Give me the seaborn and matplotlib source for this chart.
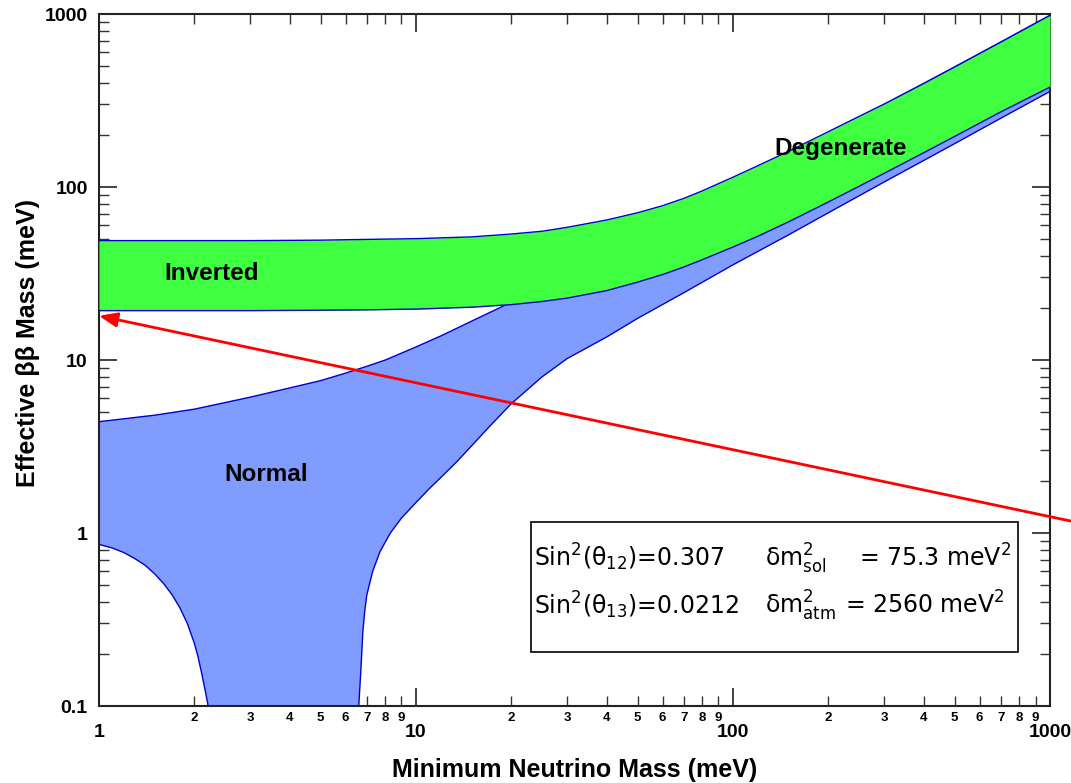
import numpy as np
import matplotlib
matplotlib.use("Agg")
import matplotlib.pyplot as plt
import matplotlib.ticker as mticker
import pandas as pd
import seaborn as sns

# Inverted hierarchy band (meV)
inv_m0 = [1, 2, 3, 5, 7, 10, 15, 20, 25, 30, 40, 50, 60, 70, 80, 100, 120, 150,
          200, 250, 300, 400, 500, 700, 1000]
inv_upper = [49, 49, 49, 49.3, 49.8, 50.3, 51.5, 53.5, 55.5, 58.5, 64.5, 71, 78, 86, 95, 114, 133, 161,
             209, 256, 302, 398, 495, 690, 985]
inv_lower = [19.3, 19.3, 19.3, 19.4, 19.5, 19.7, 20.2, 20.9, 21.8, 22.8, 25.2, 28.2, 31.2, 34.5, 38, 45, 52, 63,
             82, 101, 120, 158, 196, 272, 378]

# Normal hierarchy band (meV): upper edge
nor_up_m0 = [1, 1.5, 2, 3, 4, 5, 6, 7, 8, 10, 12, 15, 18, 20, 25, 30, 40, 50, 70,
             100, 150, 200, 300, 500, 700, 1000]
nor_upper = [4.4, 4.8, 5.2, 6.1, 6.9, 7.6, 8.4, 9.2, 10.0, 11.9, 13.8, 16.8, 19.7, 21.6, 26.5, 31.3, 41, 51, 70,
             100, 149, 198, 295, 490, 685, 975]
# lower edge, which drops off the axis between ~2.2 and ~6.6
nor_lo_m0 = [1, 1.1, 1.2, 1.3, 1.4, 1.5, 1.6, 1.7, 1.8, 1.9, 2.0, 2.05, 2.1, 2.15, 2.2, 2.25, 2.3, 2.5,
             3, 4, 5, 6, 6.4, 6.6, 6.7, 6.8, 6.9, 7.0, 7.3, 7.7, 8.3, 9, 10, 11, 12, 13.5, 15, 17, 20,
             25, 30, 40, 50, 70, 100, 150, 200, 300, 500, 700, 1000]
nor_lower = [0.86, 0.82, 0.77, 0.71, 0.65, 0.58, 0.51, 0.44, 0.37, 0.30, 0.23, 0.195, 0.16, 0.13, 0.105, 0.08, 0.06, 0.03,
             0.01, 0.005, 0.01, 0.03, 0.06, 0.1, 0.16, 0.27, 0.36, 0.44, 0.6, 0.78, 1.0, 1.22, 1.5, 1.8, 2.1, 2.6, 3.2, 4.1, 5.6,
             8.0, 10.2, 13.6, 17.4, 24.5, 35.5, 53, 71, 107, 178, 250, 357]

# sensitivity arrow
arrow_x = [1, 1170]
arrow_y = [18, 1.17]

band_labels = ["Inverted", "Normal", "Degenerate"]
label_x = [2.26, 3.36, 218]
label_y = [31.8, 2.19, 166]

inv = pd.DataFrame({"m0": inv_m0, "upper": inv_upper, "lower": inv_lower})
nor_up = pd.DataFrame({"m0": nor_up_m0, "mbb": nor_upper})
nor_lo = pd.DataFrame({"m0": nor_lo_m0, "mbb": nor_lower})

sns.set_style("ticks")
plt.rcParams["font.family"] = ["Liberation Sans", "DejaVu Sans"]
for key in ["text.color", "axes.labelcolor", "xtick.color", "ytick.color"]:
    plt.rcParams[key] = "black"

fig = plt.figure(figsize=(10.71, 7.83), dpi=100)
ax = fig.add_axes([0.0924, 0.0983, 0.8880, 0.8838])

edge = "#0000CC"
ax.fill(np.r_[nor_up["m0"], nor_lo["m0"][::-1]], np.r_[nor_up["mbb"], nor_lo["mbb"][::-1]],
        color="#809CFF", lw=0, zorder=1)
sns.lineplot(data=nor_up, x="m0", y="mbb", color=edge, lw=1, ax=ax, zorder=2)
sns.lineplot(data=nor_lo, x="m0", y="mbb", color=edge, lw=1, ax=ax, zorder=2)

ax.fill_between(inv["m0"], inv["lower"], inv["upper"], color="#40FF40", lw=0, zorder=3)
sns.lineplot(data=inv, x="m0", y="upper", color=edge, lw=1, ax=ax, zorder=4)
sns.lineplot(data=inv, x="m0", y="lower", color=edge, lw=1, ax=ax, zorder=4)

ax.set_xscale("log")
ax.set_yscale("log")
ax.set_xlim(1, 1000)
ax.set_ylim(0.1, 1000)

ax.annotate("", xy=(arrow_x[0], arrow_y[0]), xytext=(arrow_x[1], arrow_y[1]),
            arrowprops=dict(arrowstyle="-|>,head_length=0.55,head_width=0.22", color="red",
                            lw=2, mutation_scale=20, shrinkA=0, shrinkB=0),
            annotation_clip=False, zorder=6)

for name, lx, ly in zip(band_labels, label_x, label_y):
    ax.text(lx, ly, name, ha="center", va="center", fontsize=17.5, fontweight="bold", zorder=7)

# parameter box
ax.add_patch(plt.Rectangle((0.454, 0.078), 0.512, 0.188, transform=ax.transAxes,
                           facecolor="white", edgecolor="black", lw=1.2, zorder=8))
tkw = dict(transform=ax.transAxes, fontsize=17, family="DejaVu Sans", va="baseline", zorder=9)
ax.text(0.457, 0.2016, r"Sin$^2$(θ$_{12}$)=0.307", **tkw)
ax.text(0.700, 0.2016, r"δm$^2_{\mathrm{sol}}$", **tkw)
ax.text(0.799, 0.2016, r"= 75.3 meV$^2$", **tkw)
ax.text(0.457, 0.133, r"Sin$^2$(θ$_{13}$)=0.0212", **tkw)
ax.text(0.700, 0.133, r"δm$^2_{\mathrm{atm}}$", **tkw)
ax.text(0.784, 0.133, r"= 2560 meV$^2$", **tkw)

# ticks
ax.xaxis.set_major_locator(mticker.LogLocator(base=10))
ax.yaxis.set_major_locator(mticker.LogLocator(base=10))
ax.xaxis.set_minor_locator(mticker.LogLocator(base=10, subs=np.arange(2, 10)))
ax.yaxis.set_minor_locator(mticker.LogLocator(base=10, subs=np.arange(2, 10)))
ax.xaxis.set_major_formatter(mticker.FuncFormatter(lambda v, p: f"{v:g}"))
ax.yaxis.set_major_formatter(mticker.FuncFormatter(lambda v, p: f"{v:g}"))
ax.xaxis.set_minor_formatter(mticker.FuncFormatter(
    lambda v, p: f"{int(round(v / 10 ** np.floor(np.log10(v) + 1e-9)))}"))
ax.yaxis.set_minor_formatter(mticker.NullFormatter())

ax.tick_params(which="both", direction="in", top=True, right=True, color="#333333")
ax.tick_params(which="major", length=13, width=1.3, labelsize=14)
ax.tick_params(which="minor", length=7, width=1.0, labelsize=9.5)
ax.tick_params(axis="x", which="major", pad=13)
ax.tick_params(axis="x", which="minor", pad=4)
ax.tick_params(axis="y", which="major", pad=8)
for lab in ax.get_xticklabels(which="both") + ax.get_yticklabels():
    lab.set_fontweight("bold")

for sp in ax.spines.values():
    sp.set_linewidth(1.5)
    sp.set_color("#222222")

ax.set_xlabel("Minimum Neutrino Mass (meV)", fontsize=18, fontweight="bold", labelpad=12)
ax.set_ylabel("Effective ββ Mass (meV)", fontsize=18, fontweight="bold")
ax.yaxis.set_label_coords(-0.062, 0.525)

fig.savefig("out.png", dpi=100)
